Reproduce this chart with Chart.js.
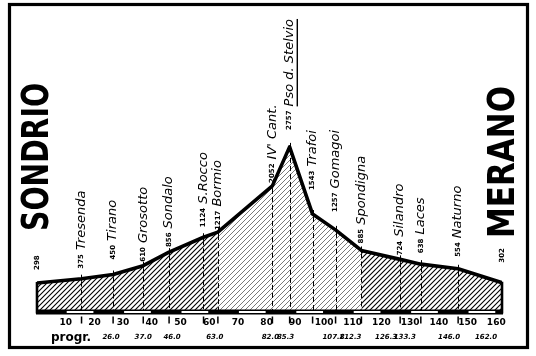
<!DOCTYPE html>
<html><head><meta charset="utf-8">
<script src="https://cdn.jsdelivr.net/npm/chart.js@4/dist/chart.umd.min.js"></script>
<style>html,body{margin:0;padding:0;background:#fff;}#wrap{width:536px;height:356px;position:relative;}</style>
</head><body><div id="wrap"><canvas id="c" width="536" height="356"></canvas></div>
<script>
// ---- data ----
const places = ['Sondrio','Tresenda','Tirano','Grosotto','Sondalo','S.Rocco','Bormio',"IV' Cant.",'Pso d. Stelvio','Trafoi','Gomagoi','Spondigna','Silandro','Laces','Naturno','Merano'];
const distanceKm = [0, 15.5, 26.5, 37, 46, 58, 63, 82, 88, 96, 104, 113, 126.5, 133.7, 146.7, 162];
const altitudeM = [298, 375, 450, 610, 856, 1124, 1217, 2052, 2757, 1543, 1257, 885, 724, 638, 554, 302];
const progrKmLabels = ['', '', '26.0', '37.0', '46.0', '', '63.0', '82.0', '85.3', '', '107.8', '112.3', '126.3', '133.3', '146.0', '162.0'];
const kmTickValues = [10, 20, 30, 40, 50, 60, 70, 80, 90, 100, 110, 120, 130, 140, 150, 160];
const startName = 'SONDRIO';
const endName = 'MERANO';
const progrTitle = 'progr.';

// ---- layout (text nudges, px) ----
const labelGap = [13, 10, 15, 4, 5, 10, 2, 3, 17, 24, 18, 7, 4, 11, 12, 20];
const progrNudge = [0, 0, -2, 0, 3, 0, -3, -2, -4, 0, -2, -11, -14, -16, -9, -16];
const FONT = '"DejaVu Sans", sans-serif';

const canvas = document.getElementById('c');
const c2d = canvas.getContext('2d');
function makeHatch(color, width){
  const s = 5;
  const t = document.createElement('canvas'); t.width = s; t.height = s;
  const g = t.getContext('2d');
  g.strokeStyle = color; g.lineWidth = width;
  g.beginPath();
  g.moveTo(0, s); g.lineTo(s, 0);
  g.moveTo(-1, 1); g.lineTo(1, -1);
  g.moveTo(s - 1, s + 1); g.lineTo(s + 1, s - 1);
  g.stroke();
  return c2d.createPattern(t, 'repeat');
}
const densePattern = makeHatch('#000', 1.1);
const lightPattern = makeHatch('#6a6a6a', 0.9);

const pts = distanceKm.map((d, i) => ({x: d, y: altitudeM[i]}));
const lightIdx = [6, 11];
const densePts = pts.map((p, i) => (i <= lightIdx[0] || i >= lightIdx[1]) ? p : {x: p.x, y: null});
const lightPts = pts.map((p, i) => (i >= lightIdx[0] && i <= lightIdx[1]) ? p : {x: p.x, y: null});

const deco = {
  id: 'deco',
  afterDatasetsDraw(chart){
    const g = chart.ctx, xs = chart.scales.x, ys = chart.scales.y;
    const bottom = chart.chartArea.bottom;
    const x0 = xs.getPixelForValue(0), x1 = xs.getPixelForValue(162);
    g.save();
    g.strokeStyle = '#000'; g.lineWidth = 1;
    for (let i = 1; i < places.length - 1; i++){
      const px = Math.round(xs.getPixelForValue(distanceKm[i])) + 0.5;
      const py = ys.getPixelForValue(altitudeM[i]);
      g.setLineDash([]);
      g.beginPath(); g.moveTo(px, py - 4); g.lineTo(px, py + 3); g.stroke();
      g.setLineDash([5, 3]);
      g.beginPath(); g.moveTo(px, py + 3); g.lineTo(px, bottom); g.stroke();
    }
    g.setLineDash([]);
    g.lineWidth = 2.6;
    [[x0, altitudeM[0]], [x1, altitudeM[altitudeM.length - 1]]].forEach(([px, a]) => {
      g.beginPath(); g.moveTo(px, ys.getPixelForValue(a) - 1); g.lineTo(px, bottom + 3); g.stroke();
    });
    g.fillStyle = '#000';
    g.fillRect(x0 - 1, bottom - 1, x1 - x0 + 2, 5);
    g.fillStyle = '#fff';
    for (let k = 10; k < 162; k += 20){
      const a = xs.getPixelForValue(k), b = xs.getPixelForValue(Math.min(k + 10, 162));
      g.fillRect(a + 1, bottom + 0.5, b - a - 2, 2);
    }
    g.fillStyle = '#000';
    for (let i = 1; i < places.length - 1; i++){
      const px = xs.getPixelForValue(distanceKm[i]);
      g.fillRect(px - 0.7, bottom + 6, 1.5, 7);
    }
    g.font = 'italic bold 7px ' + FONT; g.textAlign = 'center'; g.textBaseline = 'middle';
    progrKmLabels.forEach((t, i) => {
      if (!t) return;
      g.fillText(t, xs.getPixelForValue(distanceKm[i]) + progrNudge[i], 337);
    });
    g.font = 'bold 12px ' + FONT; g.textAlign = 'left';
    g.fillText(progrTitle, 51, 338);
    places.forEach((name, i) => {
      const px = xs.getPixelForValue(distanceKm[i]);
      const py = ys.getPixelForValue(altitudeM[i]) - labelGap[i];
      g.save(); g.translate(px, py); g.rotate(-Math.PI / 2);
      g.textBaseline = 'middle'; g.textAlign = 'left'; g.fillStyle = '#000';
      g.font = 'bold 7px ' + FONT;
      const num = String(altitudeM[i]);
      g.fillText(num, 0, 0);
      const w = g.measureText(num).width;
      if (i > 0 && i < places.length - 1){
        g.font = 'italic 13px ' + FONT;
        g.fillText(name, w + 4, 0);
        if (i === 8){
          const nw = g.measureText(name).width;
          g.fillRect(w + 4, 7, nw, 1.4);
        }
      }
      g.restore();
    });
    const big = (txt, cx, cy, len) => {
      g.save(); g.translate(cx, cy); g.rotate(-Math.PI / 2);
      g.font = 'bold 37px ' + FONT; g.textAlign = 'center'; g.textBaseline = 'middle';
      const w = g.measureText(txt).width;
      g.scale(len / w, 1);
      g.fillText(txt, 0, 1);
      g.restore();
    };
    big(startName, 37, 157, 148);
    big(endName, 503, 162, 152);
    g.lineWidth = 3.2; g.strokeStyle = '#000';
    g.strokeRect(9.5, 4.5, 518, 343);
    g.restore();
  }
};

new Chart(canvas, {
  type: 'line',
  data: {
    datasets: [
      {data: pts, borderColor: '#000', borderWidth: 3.6, pointRadius: 0, tension: 0, fill: false, order: 0, borderJoinStyle: 'round'},
      {data: densePts, borderWidth: 0, borderColor: 'rgba(0,0,0,0)', pointRadius: 0, tension: 0, fill: 'start', backgroundColor: densePattern, spanGaps: false, order: 1},
      {data: lightPts, borderWidth: 0, borderColor: 'rgba(0,0,0,0)', pointRadius: 0, tension: 0, fill: 'start', backgroundColor: lightPattern, spanGaps: false, order: 2}
    ]
  },
  options: {
    responsive: false, animation: false, devicePixelRatio: 1,
    layout: {padding: {left: 37, right: 34, top: 20, bottom: 0}},
    plugins: {legend: {display: false}, tooltip: {enabled: false}},
    scales: {
      x: {
        type: 'linear', min: 0, max: 162,
        grid: {display: false, drawTicks: false}, border: {display: false},
        afterBuildTicks: s => { s.ticks = kmTickValues.map(v => ({value: v})); },
        ticks: {autoSkip: false, maxRotation: 0, padding: 7, color: '#000', font: {family: FONT, size: 9, weight: 'bold'}},
        afterFit: s => { s.height = 45.5; }
      },
      y: {display: false, min: -200, max: 5050}
    }
  },
  plugins: [deco]
});
</script>
</body></html>
